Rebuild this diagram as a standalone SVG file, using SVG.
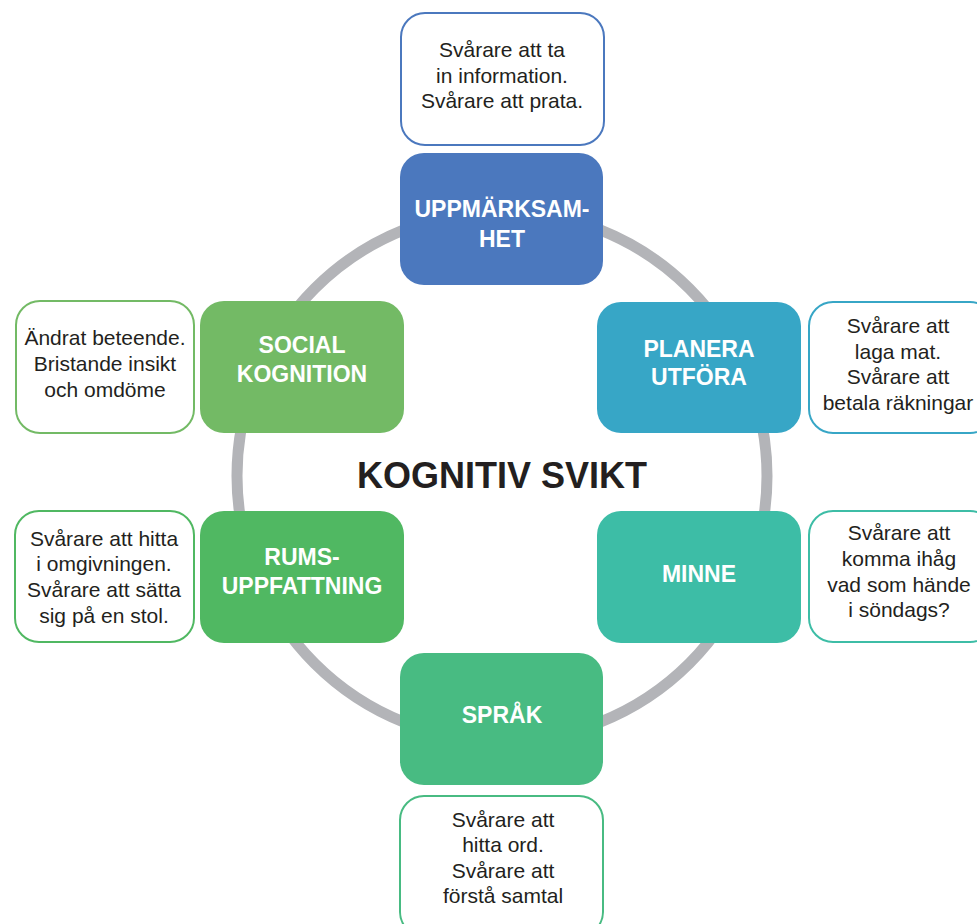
<svg xmlns="http://www.w3.org/2000/svg" width="977" height="924" viewBox="0 0 977 924">
<style>
.node{stroke:none}
.lbl{font-family:"Liberation Sans",Arial,sans-serif;font-weight:bold;font-size:23px;fill:#ffffff;text-anchor:middle}
.box{fill:#ffffff;stroke-width:2}
.txt{font-family:"Liberation Sans",Arial,sans-serif;font-size:21px;fill:#231f20;text-anchor:middle}
.title{font-family:"Liberation Sans",Arial,sans-serif;font-weight:bold;font-size:36px;fill:#231f20;text-anchor:middle}
</style>
<rect width="977" height="924" fill="#ffffff"/>
<g id="connectors">
<circle cx="502" cy="476" r="265" fill="none" stroke="#b3b4b8" stroke-width="11"/>
</g>
<g id="title">
<text class="title" x="502" y="488">KOGNITIV SVIKT</text>
</g>
<g id="node-uppmarksamhet">
<rect class="node" x="400" y="153" width="203" height="132" rx="24" fill="#4b78be"/>
<text class="lbl" x="502" y="217">UPPMÄRKSAM-</text>
<text class="lbl" x="502" y="247">HET</text>
</g>
<g id="text-uppmarksamhet">
<rect class="box" x="401" y="13" width="203" height="132" rx="24" stroke="#4b78be"/>
<text class="txt" x="502" y="57">Svårare att ta</text>
<text class="txt" x="502" y="82.5">in information.</text>
<text class="txt" x="502" y="108">Svårare att prata.</text>
</g>
<g id="node-planera">
<rect class="node" x="597" y="302" width="204" height="131" rx="24" fill="#37a6c6"/>
<text class="lbl" x="699" y="357">PLANERA</text>
<text class="lbl" x="699" y="385">UTFÖRA</text>
</g>
<g id="text-planera">
<rect class="box" x="809" y="302" width="185" height="131" rx="24" stroke="#37a6c6"/>
<text class="txt" x="898" y="333">Svårare att</text>
<text class="txt" x="898" y="358.5">laga mat.</text>
<text class="txt" x="898" y="384">Svårare att</text>
<text class="txt" x="898" y="409.5">betala räkningar</text>
</g>
<g id="node-minne">
<rect class="node" x="597" y="511" width="204" height="132" rx="24" fill="#3dbda6"/>
<text class="lbl" x="699" y="582">MINNE</text>
</g>
<g id="text-minne">
<rect class="box" x="809" y="511" width="185" height="131" rx="24" stroke="#3dbda6"/>
<text class="txt" x="899" y="540">Svårare att</text>
<text class="txt" x="899" y="566">komma ihåg</text>
<text class="txt" x="899" y="592">vad som hände</text>
<text class="txt" x="899" y="617">i söndags?</text>
</g>
<g id="node-sprak">
<rect class="node" x="400" y="653" width="203" height="132" rx="24" fill="#48bb82"/>
<text class="lbl" x="502" y="723">SPRÅK</text>
</g>
<g id="text-sprak">
<rect class="box" x="400" y="796" width="203" height="140" rx="24" stroke="#48bb82"/>
<text class="txt" x="503" y="827">Svårare att</text>
<text class="txt" x="503" y="852">hitta ord.</text>
<text class="txt" x="503" y="878">Svårare att</text>
<text class="txt" x="503" y="903">förstå samtal</text>
</g>
<g id="node-rums">
<rect class="node" x="200" y="511" width="204" height="132" rx="24" fill="#50b862"/>
<text class="lbl" x="302" y="565">RUMS-</text>
<text class="lbl" x="302" y="594">UPPFATTNING</text>
</g>
<g id="text-rums">
<rect class="box" x="15" y="511" width="179" height="131" rx="24" stroke="#50b862"/>
<text class="txt" x="104" y="546">Svårare att hitta</text>
<text class="txt" x="104" y="571">i omgivningen.</text>
<text class="txt" x="104" y="597">Svårare att sätta</text>
<text class="txt" x="104" y="623">sig på en stol.</text>
</g>
<g id="node-social">
<rect class="node" x="200" y="301" width="204" height="132" rx="24" fill="#73ba65"/>
<text class="lbl" x="302" y="353">SOCIAL</text>
<text class="lbl" x="302" y="382">KOGNITION</text>
</g>
<g id="text-social">
<rect class="box" x="16" y="301" width="178" height="132" rx="24" stroke="#73ba65"/>
<text class="txt" x="105" y="345">Ändrat beteende.</text>
<text class="txt" x="105" y="371">Bristande insikt</text>
<text class="txt" x="105" y="397">och omdöme</text>
</g>
</svg>
